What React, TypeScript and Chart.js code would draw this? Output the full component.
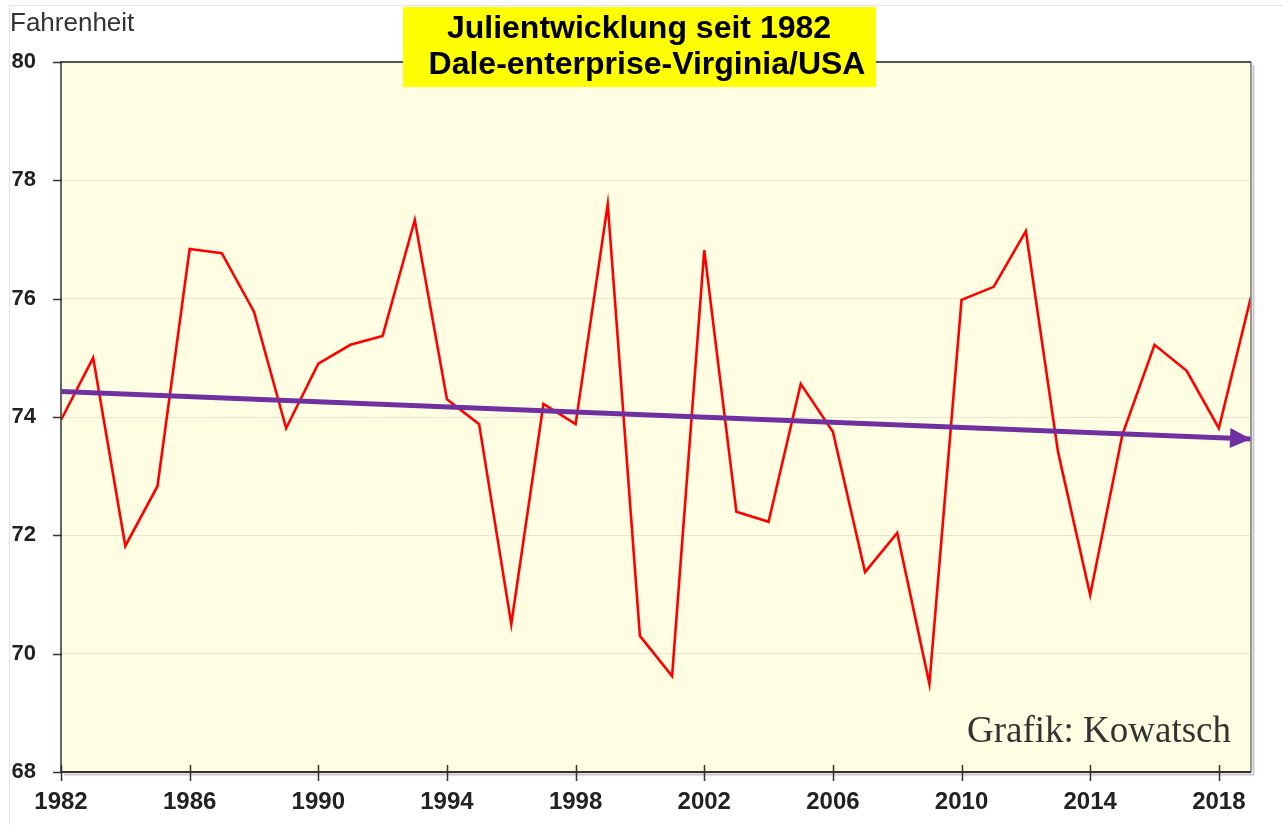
import React, { useEffect, useRef } from "react";
import { Chart, registerables } from "chart.js";

Chart.register(...registerables);

const years: number[] = [
  1982, 1983, 1984, 1985, 1986, 1987, 1988, 1989, 1990, 1991, 1992, 1993, 1994,
  1995, 1996, 1997, 1998, 1999, 2000, 2001, 2002, 2003, 2004, 2005, 2006, 2007,
  2008, 2009, 2010, 2011, 2012, 2013, 2014, 2015, 2016, 2017, 2018, 2019,
];
const julyTemps: number[] = [
  73.95, 75.0, 71.82, 72.83, 76.84, 76.77, 75.78, 73.81, 74.9, 75.22, 75.37,
  77.33, 74.3, 73.88, 70.5, 74.22, 73.88, 77.6, 70.3, 69.62, 76.82, 72.4, 72.23,
  74.56, 73.75, 71.38, 72.04, 69.49, 75.98, 76.2, 77.14, 73.41, 70.99, 73.7,
  75.22, 74.78, 73.81, 76.03,
];
const trendYears: number[] = [1982, 2019];
const trendValues: number[] = [74.43, 73.63];
const xTickYears: number[] = [1982, 1986, 1990, 1994, 1998, 2002, 2006, 2010, 2014, 2018];
const yTickValues: number[] = [68, 70, 72, 74, 76, 78, 80];
const titleLines: string[] = ["Julientwicklung seit 1982", "Dale-enterprise-Virginia/USA"];
const yAxisTitle = "Fahrenheit";
const creditText = "Grafik: Kowatsch";

const SANS = '"Liberation Sans", Arial, sans-serif';
const SERIF = '"Liberation Serif", "Times New Roman", serif';

const decorPlugin = {
  id: "decor",
  beforeDraw(chart: any) {
    const { ctx, chartArea: a } = chart;
    ctx.save();
    ctx.fillStyle = "#ffffff";
    ctx.fillRect(0, 0, chart.width, chart.height);
    ctx.strokeStyle = "#e2e2e2";
    ctx.lineWidth = 1;
    ctx.beginPath();
    ctx.moveTo(9.5, chart.height);
    ctx.lineTo(9.5, 5.5);
    ctx.lineTo(chart.width, 5.5);
    ctx.stroke();
    ctx.fillStyle = "#fffee2";
    ctx.fillRect(a.left, a.top, a.right - a.left, a.bottom - a.top);
    ctx.restore();
  },
  afterDraw(chart: any) {
    const { ctx, chartArea: a, scales } = chart;
    const xs = scales.x;
    const ys = scales.y;
    ctx.save();
    ctx.strokeStyle = "#c8c8c8";
    ctx.lineWidth = 2;
    ctx.beginPath();
    ctx.moveTo(a.left + 3, a.bottom + 2.5);
    ctx.lineTo(a.right + 2.5, a.bottom + 2.5);
    ctx.lineTo(a.right + 2.5, a.top + 3);
    ctx.stroke();
    ctx.lineWidth = 1.8;
    ctx.strokeStyle = "#8a8a8a";
    ctx.beginPath();
    ctx.moveTo(a.right, a.top);
    ctx.lineTo(a.right, a.bottom);
    ctx.stroke();
    ctx.strokeStyle = "#555555";
    ctx.beginPath();
    ctx.moveTo(a.left, a.bottom);
    ctx.lineTo(a.left, a.top);
    ctx.lineTo(a.right, a.top);
    ctx.stroke();
    ctx.strokeStyle = "#333333";
    ctx.beginPath();
    ctx.moveTo(a.left, a.bottom);
    ctx.lineTo(a.right, a.bottom);
    ctx.stroke();
    ctx.strokeStyle = "#333333";
    ctx.lineWidth = 1.5;
    ctx.beginPath();
    xTickYears.forEach((yr) => {
      const px = Math.round(xs.getPixelForValue(yr)) + 0.5;
      ctx.moveTo(px, a.bottom - 7);
      ctx.lineTo(px, a.bottom + 9);
    });
    yTickValues.forEach((v) => {
      const py = Math.round(ys.getPixelForValue(v)) + 0.5;
      ctx.moveTo(a.left - 8, py);
      ctx.lineTo(a.left + 1, py);
    });
    ctx.stroke();

    const x1 = xs.getPixelForValue(trendYears[0]);
    const y1 = ys.getPixelForValue(trendValues[0]);
    const x2 = xs.getPixelForValue(trendYears[1]);
    const y2 = ys.getPixelForValue(trendValues[1]);
    const ang = Math.atan2(y2 - y1, x2 - x1);
    const len = 21;
    const half = 10;
    ctx.fillStyle = "#7030a0";
    ctx.beginPath();
    ctx.moveTo(x2, y2);
    ctx.lineTo(
      x2 - len * Math.cos(ang) + half * Math.sin(ang),
      y2 - len * Math.sin(ang) - half * Math.cos(ang)
    );
    ctx.lineTo(
      x2 - len * Math.cos(ang) - half * Math.sin(ang),
      y2 - len * Math.sin(ang) + half * Math.cos(ang)
    );
    ctx.closePath();
    ctx.fill();

    ctx.fillStyle = "#ffff00";
    ctx.fillRect(403, 7, 473, 80);
    ctx.fillStyle = "#000000";
    ctx.font = `bold 32px ${SANS}`;
    ctx.textAlign = "center";
    ctx.textBaseline = "alphabetic";
    ctx.fillText(titleLines[0], 639, 38);
    ctx.fillText(titleLines[1], 647, 74);

    ctx.fillStyle = "#333333";
    ctx.font = `26px ${SANS}`;
    ctx.textAlign = "left";
    ctx.fillText(yAxisTitle, 10, 31);

    ctx.fillStyle = "#333333";
    ctx.font = `37px ${SERIF}`;
    ctx.textAlign = "right";
    ctx.fillText(creditText, 1231, 742);
    ctx.restore();
  },
};

export default function App() {
  const ref = useRef<HTMLCanvasElement | null>(null);
  useEffect(() => {
    document.body.style.margin = "0";
    if (!ref.current) return;
    const chart = new Chart(ref.current, {
      type: "line",
      data: {
        datasets: [
          {
            label: "Trend",
            data: trendYears.map((x, i) => ({ x, y: trendValues[i] })),
            borderColor: "#7030a0",
            borderWidth: 5,
            pointRadius: 0,
            order: 1,
          },
          {
            label: "Juli",
            data: years.map((x, i) => ({ x, y: julyTemps[i] })),
            borderColor: "#ff0000",
            borderWidth: 2.6,
            pointRadius: 0,
            tension: 0,
            order: 2,
          },
        ],
      },
      plugins: [decorPlugin],
      options: {
        animation: false,
        responsive: false,
        layout: { padding: { top: 62, right: 32, left: 0, bottom: 0 } },
        plugins: {
          legend: { display: false },
          tooltip: { enabled: false },
          title: { display: false },
        },
        scales: {
          x: {
            type: "linear",
            min: 1982,
            max: 2019,
            afterBuildTicks: (scale: any) => {
              scale.ticks = xTickYears.map((v) => ({ value: v }));
            },
            afterFit: (scale: any) => {
              scale.height = 53;
            },
            grid: { display: false, drawTicks: false },
            border: { display: false },
            ticks: {
              autoSkip: false,
              maxRotation: 0,
              padding: 16,
              color: "#222222",
              font: { family: SANS, size: 24, weight: "bold" },
              callback: (v: any) => String(v),
            },
          },
          y: {
            type: "linear",
            min: 68,
            max: 80,
            afterBuildTicks: (scale: any) => {
              scale.ticks = yTickValues.map((v) => ({ value: v }));
            },
            afterFit: (scale: any) => {
              scale.width = 61;
            },
            grid: { color: "#e6e6d6", lineWidth: 1, drawTicks: false },
            border: { display: false },
            ticks: {
              padding: 25,
              color: "#222222",
              font: { family: SANS, size: 22, weight: "bold" },
              callback: (v: any) => String(v),
            },
          },
        },
      },
    } as any);
    return () => chart.destroy();
  }, []);
  return (
    <canvas
      ref={ref}
      width={1283}
      height={825}
      style={{ display: "block", position: "absolute", left: 0, top: 0 }}
    />
  );
}
